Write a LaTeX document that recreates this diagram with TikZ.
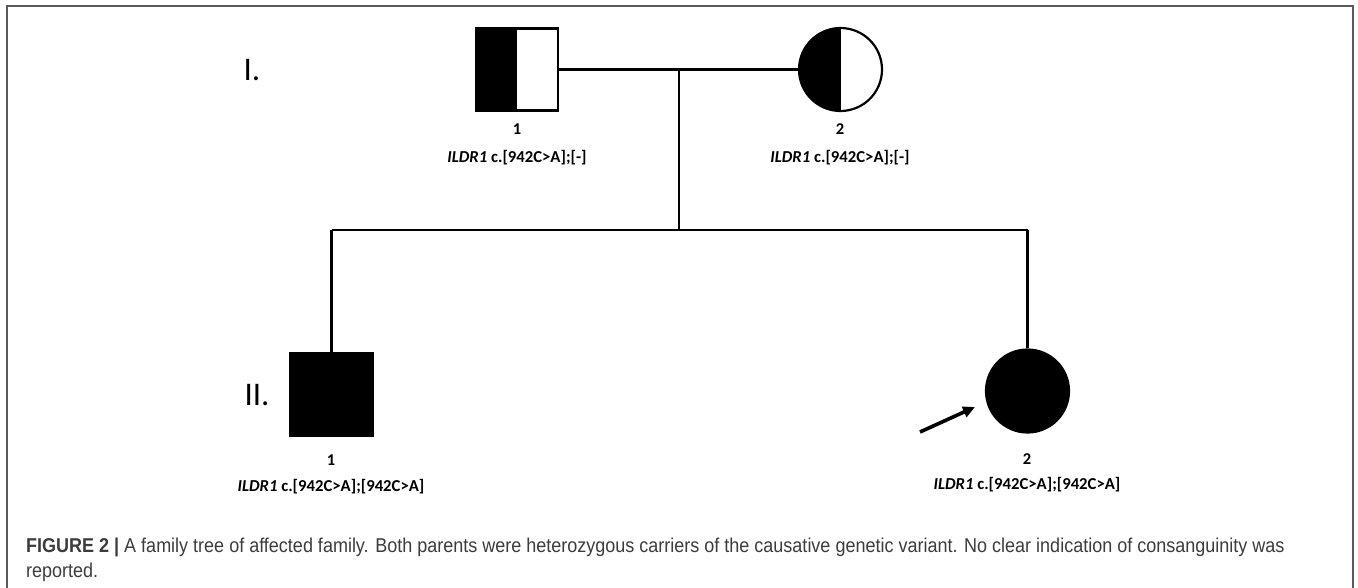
\documentclass[tikz,border=0pt]{standalone}
\usepackage{fontspec}
\setmainfont{Carlito}
\newfontfamily\capfont[FakeStretch=0.9]{Liberation Sans}
\usetikzlibrary{arrows.meta}
\definecolor{framegray}{HTML}{5A5A5A}
\definecolor{capgray}{HTML}{3C3C3C}
\begin{document}
\begin{tikzpicture}[x=1pt,y=-1pt,
  pline/.style={line width=2.8pt,black},
  male/.style={draw=black,line width=2.2pt,rectangle,minimum size=82pt,inner sep=0pt},
  female/.style={draw=black,line width=2.2pt,circle,minimum size=83pt,inner sep=0pt},
  carrier/.style={path picture={\fill[black] (path picture bounding box.south west) rectangle (path picture bounding box.north);}},
  affected/.style={fill=black},
  idlbl/.style={font=\bfseries\fontsize{16.5}{16.5}\selectfont,inner sep=0pt},
  genlbl/.style={font=\bfseries\fontsize{16.7}{17}\selectfont,inner sep=0pt},
  genlabel/.style={font=\fontsize{33}{33}\selectfont,inner sep=0pt},
  captxt/.style={font=\capfont\fontsize{20}{25}\selectfont,text=capgray,inner sep=0pt,anchor=west}
]
\useasboundingbox (0,0) rectangle (1358,587);
% frame
\draw[framegray,line width=1.4pt] (7,600) -- (7,6) -- (1353,6) -- (1353,600);

% generation labels
\node[genlabel] (gI) at (252,70) {I.};
\node[genlabel] (gII) at (257,395) {II.};

% generation I
\node[male,carrier] (I1) at (517,69.5) {};
\node[female,carrier] (I2) at (840.5,69.5) {};
\node[idlbl] (I1n) at (517,129) {1};
\node[genlbl] (I1g) at (517,158) {\textit{ILDR1} c.[942C>A];[-]};
\node[idlbl] (I2n) at (840,129) {2};
\node[genlbl] (I2g) at (840,158) {\textit{ILDR1} c.[942C>A];[-]};

% generation II
\node[male,affected] (II1) at (331.5,394.5) {};
\node[female,affected] (II2) at (1027.5,391) {};
\node[idlbl] (II1n) at (331,460) {1};
\node[genlbl] (II1g) at (331,487) {\textit{ILDR1} c.[942C>A];[942C>A]};
\node[idlbl] (II2n) at (1027,459) {2};
\node[genlbl] (II2g) at (1027,485) {\textit{ILDR1} c.[942C>A];[942C>A]};

% connectors
\coordinate (mate) at (679,69.5);
\coordinate (drop) at (679,230);
\coordinate (sl) at (331.5,230);
\coordinate (sr) at (1027.5,230);
\draw[pline] (I1.east) -- (I2.west);
\draw[pline] (mate) -- (drop);
\draw[pline] (sl) -- (sr);
\draw[pline] (sl) -- (II1.north);
\draw[pline] (sr) -- (II2.north);

% proband arrow
\coordinate (ptail) at (920,432);
\draw[line width=3.6pt,-{Triangle[length=12pt,width=11pt]}] (ptail) -- (975,407);

% caption
\node[captxt] (cap1) at (26,547) {\textbf{FIGURE 2 |} A family tree of affected family. Both parents were heterozygous carriers of the causative genetic variant. No clear indication of consanguinity was};
\node[captxt] (cap2) at (26,572) {reported.};
\end{tikzpicture}
\end{document}
